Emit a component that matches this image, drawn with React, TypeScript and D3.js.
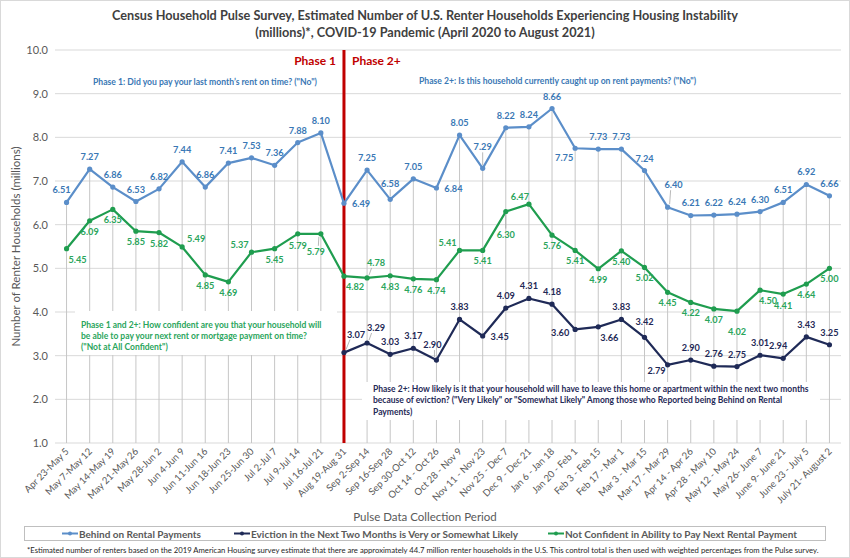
import React from 'react';
import * as d3 from 'd3';

const categories = [
  'Apr 23-May 5', 'May 7-May 12', 'May 14-May 19', 'May 21-May 26', 'May 28-Jun 2', 'Jun 4-Jun 9',
  'Jun 11-Jun 16', 'Jun 18-Jun 23', 'Jun 25-Jun 30', 'Jul 2-Jul 7', 'Jul 9-Jul 14', 'Jul 16-Jul 21',
  'Aug 19-Aug 31', 'Sep 2-Sep 14', 'Sep 16-Sep 28', 'Sep 30-Oct 12', 'Oct 14 - Oct 26', 'Oct 28 - Nov 9',
  'Nov 11 - Nov 23', 'Nov 25 - Dec 7', 'Dec 9 - Dec 21', 'Jan 6 - Jan 18', 'Jan 20 - Feb 1', 'Feb 3 - Feb 15',
  'Feb 17 - Mar 1', 'Mar 3 - Mar 15', 'Mar 17 - Mar 29', 'Apr 14 - Apr 26', 'Apr 28 - May 10', 'May 12 - May 24',
  'May 26- June 7', 'June 9- June 21', 'June 23 - July 5', 'July 21- August 2',
];

// Behind on Rental Payments
const behind = [
  6.51, 7.27, 6.86, 6.53, 6.82, 7.44, 6.86, 7.41, 7.53, 7.36, 7.88, 8.10,
  6.49, 7.25, 6.58, 7.05, 6.84, 8.05, 7.29, 8.22, 8.24, 8.66, 7.75, 7.73, 7.73, 7.24, 6.40,
  6.21, 6.22, 6.24, 6.30, 6.51, 6.92, 6.66,
];

// Not Confident in Ability to Pay Next Rental Payment
const notConfident = [
  5.45, 6.09, 6.35, 5.85, 5.82, 5.49, 4.85, 4.69, 5.37, 5.45, 5.79, 5.79,
  4.82, 4.78, 4.83, 4.76, 4.74, 5.41, 5.41, 6.30, 6.47, 5.76, 5.41, 4.99, 5.40, 5.02, 4.45,
  4.22, 4.07, 4.02, 4.50, 4.41, 4.64, 5.00,
];

// Eviction in the Next Two Months is Very or Somewhat Likely (Phase 2+ only)
const eviction: (number | null)[] = [
  null, null, null, null, null, null, null, null, null, null, null, null,
  3.07, 3.29, 3.03, 3.17, 2.90, 3.83, 3.45, 4.09, 4.31, 4.18, 3.60, 3.66, 3.83, 3.42, 2.79,
  2.90, 2.76, 2.75, 3.01, 2.94, 3.43, 3.25,
];

const yTicks = [1, 2, 3, 4, 5, 6, 7, 8, 9, 10];

// where each data label sits relative to its point
const behindPos = [
  'al', 'a', 'a', 'a', 'a', 'a', 'a', 'a', 'a', 'a', 'a', 'a',
  'r', 'a', 'a1', 'a', 'r', 'a', 'a2', 'a', 'a', 'a', 'bl', 'a', 'a', 'a', 'a2r',
  'a', 'a', 'a', 'a', 'a', 'a', 'a',
];
const confPos = [
  'br', 'b', 'b', 'b', 'b', 'ar2', 'b', 'b', 'al2', 'b', 'b1', 'bl2',
  'br', 'ar', 'b', 'b', 'b', 'al2', 'b', 'b3', 'al3', 'b', 'b', 'b', 'b', 'b', 'b',
  'b', 'b', 'b2', 'br3', 'b1', 'b', 'b',
];
const evicPos = [
  '', '', '', '', '', '', '', '', '', '', '', '',
  'ar3', 'ar', 'a', 'a', 'al4', 'a', 'r', 'a', 'a', 'a', 'l', 'br', 'a', 'a1', 'l2',
  'a', 'a', 'a', 'a', 'al', 'a', 'a',
];

const W = 850;
const H = 558;
const FONT = 'Lato, "Open Sans", sans-serif';

const C_BLUE = '#5b8ec9';
const C_BLUE_T = '#3a78b5';
const C_NAVY = '#1f2a57';
const C_GREEN = '#1f9d4f';
const C_GREEN_T = '#2aa55c';
const C_RED = '#c00000';
const C_GRID = '#d9d9d9';
const C_AXIS = '#595959';

const offsets: Record<string, [number, number]> = {
  a: [0, -9],
  a1: [0, -12],
  a2: [0, -18],
  a2r: [6, -19],
  b: [0, 14],
  b1: [0, 15],
  b2: [0, 24],
  b3: [0, 26],
  r: [17, 4],
  l: [-15, 7],
  l2: [-11, 9],
  al: [-5, -9],
  al2: [-12, -4],
  al3: [-9, -4],
  al4: [-4, -12],
  ar: [9, -12],
  ar2: [14, -5],
  ar3: [12, -15],
  bl: [-11, 13],
  bl2: [-5, 21],
  br: [11, 14],
  br3: [8, 14],
};

// label positions that get a thin leader line back to the point
const leadered = ['a1', 'a2', 'a2r', 'b3', 'bl2', 'ar3', 'ar', 'al4'];

const App: React.FC = () => {
  const x = d3.scalePoint<string>().domain(categories).range([55, 841]).padding(0.5);
  const y = d3.scaleLinear().domain([1, 10]).range([443, 50]);
  const px = (i: number) => x(categories[i]) as number;

  const line = d3
    .line<number | null>()
    .defined((d) => d !== null)
    .x((_, i) => px(i))
    .y((d) => y(d as number));

  const phaseX = px(12);

  const series = [
    { vals: behind as (number | null)[], color: C_BLUE, text: C_BLUE_T, pos: behindPos },
    { vals: notConfident as (number | null)[], color: C_GREEN, text: C_GREEN_T, pos: confPos },
    { vals: eviction, color: C_NAVY, text: C_NAVY, pos: evicPos },
  ];

  const legendItems = [
    { label: 'Behind on Rental Payments', color: C_BLUE, x: 62 },
    { label: 'Eviction in the Next Two Months is Very or Somewhat Likely', color: C_NAVY, x: 234 },
    { label: 'Not Confident in Ability to Pay Next Rental Payment', color: C_GREEN, x: 548 },
  ];

  return (
    <svg
      width={W}
      height={H}
      style={{ position: 'absolute', left: 0, top: 0, background: '#fff' }}
      fontFamily={FONT}
    >
      <rect x={0.5} y={0.5} width={W - 1} height={H - 1} fill="#fff" stroke="#d9d9d9" />

      {/* title */}
      <text x={425} y={20} textAnchor="middle" fontSize={12.7} fontWeight={700} fill="#404040">
        Census Household Pulse Survey, Estimated Number of U.S. Renter Households Experiencing Housing Instability
      </text>
      <text x={425} y={37} textAnchor="middle" fontSize={12.7} fontWeight={700} fill="#404040">
        (millions)*, COVID-19 Pandemic (April 2020 to August 2021)
      </text>

      {/* horizontal gridlines + y tick labels */}
      {yTicks.map((t) => (
        <g key={t}>
          <line x1={55} x2={841} y1={y(t)} y2={y(t)} stroke={C_GRID} strokeWidth={1} />
          <text x={48} y={y(t) + 4} textAnchor="end" fontSize={11} fill={C_AXIS}>
            {t.toFixed(1)}
          </text>
        </g>
      ))}

      {/* drop lines */}
      {categories.map((c, i) => {
        const top = d3.max(series, (s) => s.vals[i] ?? undefined) as number;
        return <line key={c} x1={px(i)} x2={px(i)} y1={y(top)} y2={y(1)} stroke="#c6c6c6" strokeWidth={1} />;
      })}

      {/* y axis title */}
      <text
        transform={`translate(20,${y(5.5)}) rotate(-90)`}
        textAnchor="middle"
        fontSize={11.5}
        fill={C_AXIS}
      >
        Number of Renter Households (millions)
      </text>

      {/* x tick labels */}
      {categories.map((c, i) => (
        <text
          key={c}
          transform={`translate(${px(i) + 3},${452}) rotate(-45)`}
          textAnchor="end"
          fontSize={9.6}
          fill={C_AXIS}
        >
          {c}
        </text>
      ))}
      <text x={425} y={521} textAnchor="middle" fontSize={11.5} fill={C_AXIS}>
        Pulse Data Collection Period
      </text>

      {/* annotation boxes */}
      <rect x={75} y={311} width={262} height={44} fill="#fff" />
      <rect x={362} y={382} width={458} height={38} fill="#fff" />

      {/* phase divider */}
      <line x1={phaseX} x2={phaseX} y1={y(10)} y2={y(1)} stroke={C_RED} strokeWidth={3} />
      <text x={phaseX - 8} y={65} textAnchor="end" fontSize={12} fontWeight={700} fill={C_RED}>
        Phase 1
      </text>
      <text x={phaseX + 8} y={65} fontSize={12} fontWeight={700} fill={C_RED}>
        Phase 2+
      </text>

      {/* annotations */}
      <text x={205} y={85} textAnchor="middle" fontSize={8.6} fontWeight={700} fill={C_BLUE_T}>
        Phase 1: Did you pay your last month’s rent on time? ("No")
      </text>
      <text x={419} y={84} fontSize={8.6} fontWeight={700} fill={C_BLUE_T}>
        Phase 2+: Is this household currently caught up on rent payments? ("No")
      </text>
      <text fontSize={8.5} fontWeight={700} fill={C_GREEN_T}>
        <tspan x={81} y={328}>Phase 1 and 2+: How confident are you that your household will</tspan>
        <tspan x={81} y={339}>be able to pay your next rent or mortgage payment on time?</tspan>
        <tspan x={81} y={350}>("Not at All Confident")</tspan>
      </text>
      <text fontSize={8.5} fontWeight={700} fill={C_NAVY}>
        <tspan x={373} y={392}>
          Phase 2+: How likely is it that your household will have to leave this home or apartment within the next two months
        </tspan>
        <tspan x={373} y={403}>
          because of eviction? ("Very Likely" or "Somewhat Likely" Among those who Reported being Behind on Rental
        </tspan>
        <tspan x={373} y={415}>Payments)</tspan>
      </text>

      {/* series lines, markers, labels */}
      {series.map((s, si) => (
        <g key={si}>
          <path d={line(s.vals) ?? ''} fill="none" stroke={s.color} strokeWidth={2.2} strokeLinejoin="round" />
          {s.vals.map((v, i) =>
            v === null ? null : <circle key={i} cx={px(i)} cy={y(v)} r={2.6} fill={s.color} />,
          )}
          {s.vals.map((v, i) => {
            if (v === null || !leadered.includes(s.pos[i])) return null;
            const [dx, dy] = offsets[s.pos[i]];
            const cx = px(i);
            const cy = y(v);
            const up = dy < 0;
            return (
              <line
                key={'l' + i}
                x1={cx + (dx > 0 ? 2 : dx < 0 ? -2 : 0)}
                y1={cy + (up ? -3 : 3)}
                x2={cx + dx * 0.5}
                y2={cy + dy + (up ? 2 : -9)}
                stroke="#a6a6a6"
                strokeWidth={0.8}
              />
            );
          })}
          {s.vals.map((v, i) => {
            if (v === null) return null;
            const [dx, dy] = offsets[s.pos[i]] ?? offsets.a;
            return (
              <text
                key={'t' + i}
                x={px(i) + dx}
                y={y(v) + dy}
                textAnchor="middle"
                fontSize={9.2}
                fontWeight={700}
                fill={s.text}
              >
                {v.toFixed(2)}
              </text>
            );
          })}
        </g>
      ))}

      {/* legend */}
      <rect x={24.5} y={526.5} width={801} height={14} fill="#fff" stroke="#bfbfbf" />
      {legendItems.map((l) => (
        <g key={l.label}>
          <line x1={l.x} x2={l.x + 16} y1={533.5} y2={533.5} stroke={l.color} strokeWidth={2} />
          <circle cx={l.x + 8} cy={533.5} r={2} fill={l.color} />
          <text x={l.x + 17} y={537.5} fontSize={10} fontWeight={700} fill={C_AXIS}>
            {l.label}
          </text>
        </g>
      ))}

      {/* footnote */}
      <text x={27} y={553} fontSize={7.7} fill="#262626">
        *Estimated number of renters based on the 2019 American Housing survey estimate that there are approximately 44.7 million renter households in the U.S. This control total is then used with weighted percentages from the Pulse survey.
      </text>
    </svg>
  );
};

export default App;
